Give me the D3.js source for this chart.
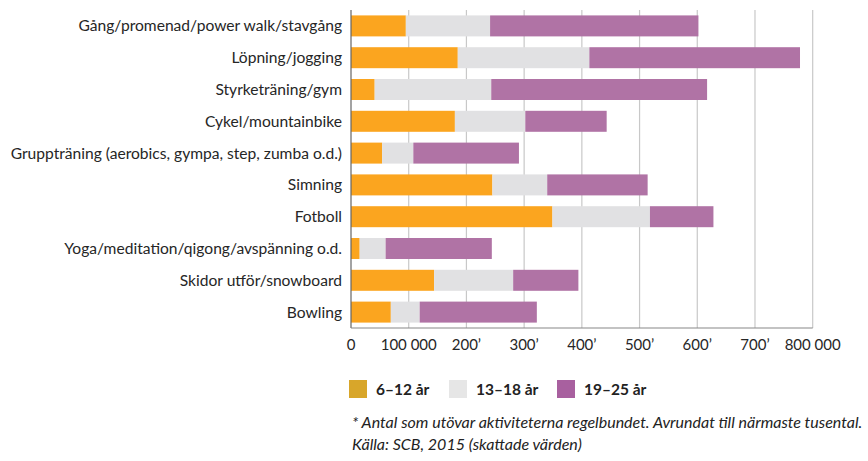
<!DOCTYPE html>
<html>
<head>
<meta charset="utf-8">
<script src="https://cdn.jsdelivr.net/npm/d3@7"></script>
<style>
  body { margin: 0; background: #fff; }
  svg { display: block; font-family: Lato, "Open Sans", sans-serif; }
</style>
</head>
<body>
<svg id="chart" width="868" height="461"></svg>
<script>
const categories = [
  'Gång/promenad/power walk/stavgång',
  'Löpning/jogging',
  'Styrketräning/gym',
  'Cykel/mountainbike',
  'Gruppträning (aerobics, gympa, step, zumba o.d.)',
  'Simning',
  'Fotboll',
  'Yoga/meditation/qigong/avspänning o.d.',
  'Skidor utför/snowboard',
  'Bowling'
];
const series = ['6–12 år', '13–18 år', '19–25 år'];
// thousands of people
const age6to12 = [95, 185, 41, 180, 54, 245, 349, 15, 144, 69];
const age13to18 = [146, 228, 202, 122, 54, 95, 169, 45, 137, 50];
const age19to25 = [361, 365, 374, 141, 183, 174, 110, 184, 113, 203];
const tickValues = [0, 100, 200, 300, 400, 500, 600, 700, 800];
const tickLabels = ['0', '100 000', '200’', '300’', '400’', '500’', '600’', '700’', '800 000'];

const barColors = ['#FBA51F', '#E1E1E3', '#B073A5'];
const legendColors = ['#D8A62A', '#E6E6E6', '#A8609F'];

const svg = d3.select('#chart');
const margin = {left: 351, right: 55, top: 10, bottom: 134};
const width = 868, height = 461;

const data = categories.map((c, i) => ({
  name: c, v0: age6to12[i], v1: age13to18[i], v2: age19to25[i]
}));
const stack = d3.stack().keys(['v0', 'v1', 'v2'])(data);

const x = d3.scaleLinear().domain([0, 800]).range([margin.left, 812.7]);
const y = d3.scaleBand().domain(categories)
  .range([margin.top, height - margin.bottom + 1]).paddingInner(0.34).paddingOuter(0.17);

// gridlines
svg.append('g')
  .selectAll('line')
  .data(tickValues.slice(1))
  .join('line')
    .attr('x1', d => x(d)).attr('x2', d => x(d))
    .attr('y1', y.range()[0]).attr('y2', y.range()[1])
    .attr('stroke', '#c8c8c8').attr('stroke-width', 1.2);

svg.append('g')
  .selectAll('g')
  .data(stack)
  .join('g')
    .attr('fill', (d, i) => barColors[i])
  .selectAll('rect')
  .data(d => d)
  .join('rect')
    .attr('x', d => x(d[0]))
    .attr('width', d => x(d[1]) - x(d[0]))
    .attr('y', d => y(d.data.name))
    .attr('height', y.bandwidth());

// axis lines
svg.append('line')
  .attr('x1', x(0)).attr('x2', x(0))
  .attr('y1', y.range()[0]).attr('y2', y.range()[1])
  .attr('stroke', '#666').attr('stroke-width', 1.2);
svg.append('line')
  .attr('x1', x(0)).attr('x2', x(800))
  .attr('y1', y.range()[1]).attr('y2', y.range()[1])
  .attr('stroke', '#888').attr('stroke-width', 1.2);

// category labels
svg.append('g')
  .attr('font-size', 15.6)
  .attr('fill', '#262626')
  .attr('text-anchor', 'end')
  .selectAll('text')
  .data(categories)
  .join('text')
    .attr('x', x(0) - 9)
    .attr('y', d => y(d) + y.bandwidth() / 2)
    .attr('dy', '0.35em')
    .text(d => d);

// tick labels
svg.append('g')
  .attr('font-size', 15)
  .attr('fill', '#262626')
  .attr('text-anchor', 'middle')
  .selectAll('text')
  .data(tickValues)
  .join('text')
    .attr('x', d => x(d))
    .attr('y', 350)
    .text((d, i) => tickLabels[i]);

// legend
const legendX = [349, 449, 557];
const legend = svg.append('g')
  .selectAll('g')
  .data(series)
  .join('g')
    .attr('transform', (d, i) => `translate(${legendX[i]},380)`);
legend.append('rect')
  .attr('width', 18).attr('height', 18)
  .attr('fill', (d, i) => legendColors[i]);
legend.append('text')
  .attr('x', 27).attr('y', 15)
  .attr('font-size', 15.5)
  .attr('font-weight', 'bold')
  .attr('fill', '#222')
  .text(d => d);

// footnote
svg.append('text')
  .attr('x', 352).attr('y', 428)
  .attr('font-size', 16).attr('font-style', 'italic').attr('fill', '#222')
  .text('* Antal som utövar aktiviteterna regelbundet. Avrundat till närmaste tusental.');
svg.append('text')
  .attr('x', 352).attr('y', 450)
  .attr('font-size', 16).attr('font-style', 'italic').attr('fill', '#222')
  .text('Källa: SCB, 2015 (skattade värden)');
</script>
</body>
</html>
